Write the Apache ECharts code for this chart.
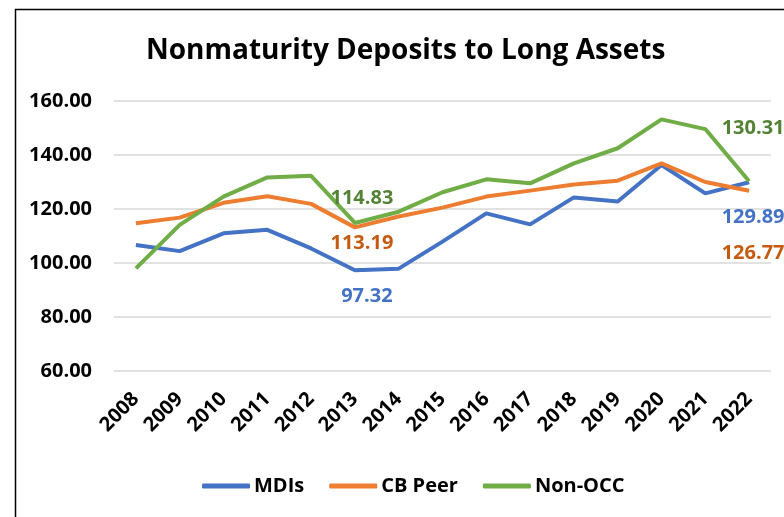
<!DOCTYPE html>
<html>
<head>
<meta charset="utf-8">
<script src="https://cdn.jsdelivr.net/npm/echarts@6/dist/echarts.min.js"></script>
<style>
  html, body { margin: 0; padding: 0; background: #fff; }
  #chart { width: 784px; height: 517px; }
</style>
</head>
<body>
<div id="chart"></div>
<script>
// Years on the category axis
const years = ['2008','2009','2010','2011','2012','2013','2014','2015','2016','2017','2018','2019','2020','2021','2022'];

// Nonmaturity deposits to long assets, by peer group
const mdis   = [106.7, 104.4, 111.0, 112.3, 105.4, 97.32, 97.9, 107.9, 118.4, 114.3, 124.3, 122.8, 136.3, 125.8, 129.89];
const cbPeer = [114.7, 116.8, 122.3, 124.7, 121.9, 113.19, 117.2, 120.5, 124.6, 126.8, 129.1, 130.5, 136.9, 130.0, 126.77];
const nonOcc = [98.0, 114.1, 124.6, 131.7, 132.3, 114.83, 119.0, 126.2, 131.0, 129.5, 136.9, 142.5, 153.2, 149.6, 130.31];

// Value axis ticks
const yMin = 60, yMax = 160, yStep = 20;

// Indices of the points that carry a value label
const labelled = { 5: true, 14: true };

const FONT = '"Open Sans", Lato, sans-serif';

function withLabels(values, color, offsets) {
  return values.map((v, i) => {
    if (!labelled[i]) return v;
    return {
      value: v,
      label: {
        show: true,
        formatter: p => Number(p.value).toFixed(2),
        position: 'inside',
        offset: offsets[i],
        color: color,
        fontFamily: FONT,
        fontWeight: 'bold',
        fontSize: 20
      }
    };
  });
}

function lineSeries(name, values, color, labelColor, offsets, z) {
  return {
    name: name,
    type: 'line',
    data: withLabels(values, labelColor, offsets),
    showSymbol: true,
    symbol: 'circle',
    symbolSize: 0,
    label: { show: false },
    lineStyle: { color: color, width: 4 },
    itemStyle: { color: color },
    z: z
  };
}

const chart = echarts.init(document.getElementById('chart'), null, { renderer: 'canvas' });

chart.setOption({
  animation: false,
  backgroundColor: '#ffffff',
  title: {
    text: 'Nonmaturity Deposits to Long Assets',
    left: 141,
    top: 32,
    textStyle: { fontFamily: FONT, fontWeight: 'bold', fontSize: 28, color: '#000' }
  },
  graphic: [{
    type: 'rect',
    shape: { x: 15.5, y: 9.5, width: 800, height: 520 },
    style: { fill: 'none', stroke: '#000', lineWidth: 1.5 },
    silent: true,
    z: -1
  }],
  legend: {
    bottom: 16,
    left: 197,
    itemWidth: 48,
    itemHeight: 5,
    itemGap: 25,
    icon: 'roundRect',
    textStyle: { fontFamily: FONT, fontWeight: 'bold', fontSize: 20, color: '#000', padding: [0, 0, 0, -1] },
    data: ['MDIs', 'CB Peer', 'Non-OCC']
  },
  grid: { left: 114, right: 13, top: 101, bottom: 146 },
  xAxis: {
    type: 'category',
    data: years,
    boundaryGap: true,
    axisLine: { show: false },
    axisTick: { show: false },
    axisLabel: {
      rotate: 45,
      margin: 25,
      fontFamily: FONT,
      fontWeight: 'bold',
      fontSize: 20,
      color: '#000'
    }
  },
  yAxis: {
    type: 'value',
    min: yMin,
    max: yMax,
    interval: yStep,
    axisLine: { show: false },
    axisTick: { show: false },
    splitLine: { lineStyle: { color: '#d9d9d9', width: 1.5 } },
    axisLabel: {
      formatter: v => v.toFixed(2),
      margin: 22,
      fontFamily: FONT,
      fontWeight: 'bold',
      fontSize: 20,
      color: '#000'
    }
  },
  series: [
    lineSeries('MDIs', mdis, '#4472C4', '#4472C4', { 5: [12, 26], 14: [4, 35] }, 3),
    lineSeries('CB Peer', cbPeer, '#ED7D31', '#C55A11', { 5: [7, 16], 14: [4, 63] }, 4),
    lineSeries('Non-OCC', nonOcc, '#70AD47', '#548235', { 5: [7, -25], 14: [4, -53] }, 5)
  ]
});
</script>
</body>
</html>
